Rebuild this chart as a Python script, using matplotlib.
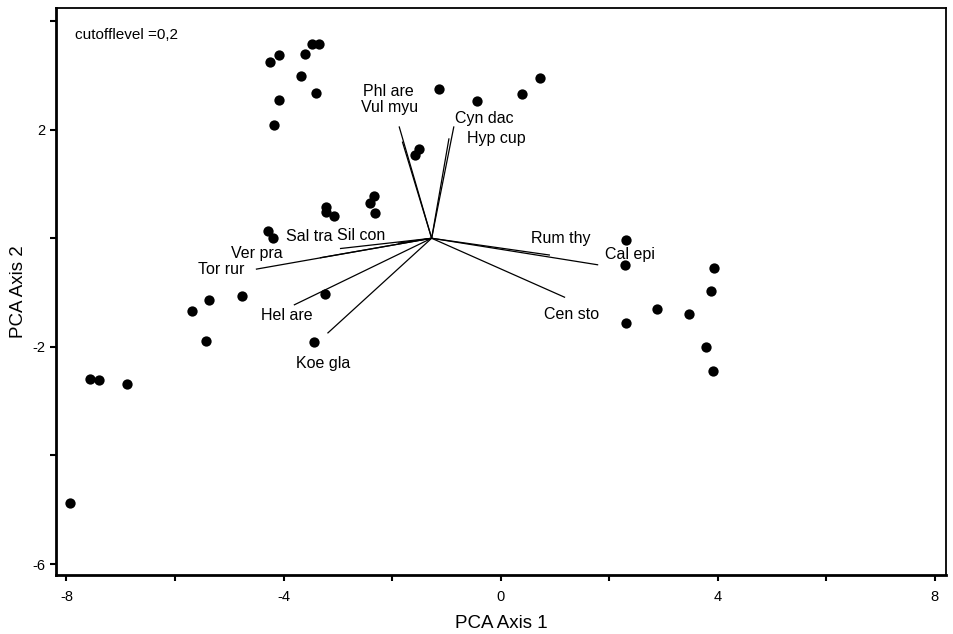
import matplotlib
matplotlib.use("Agg")
import matplotlib.pyplot as plt

plt.rcParams['font.family'] = ['Liberation Sans', 'DejaVu Sans']

# Site scores (PCA axis 1, axis 2)
site_x = [-4.25, -4.08, -3.61, -3.48, -3.34, -3.67, -3.41, -4.09, -4.18,
          -1.14, -0.44, 0.73, 0.39, -1.50, -1.57, -2.33, -2.41, -2.32,
          -3.22, -3.22, -3.07, -4.28, -4.20, -3.24, -4.76, -5.38, -5.68,
          -5.43, -3.44, -7.57, -7.40, -6.89, -7.93,
          2.32, 2.30, 3.93, 3.88, 2.89, 3.47, 2.31, 3.79, 3.91]
site_y = [3.24, 3.38, 3.40, 3.58, 3.57, 2.98, 2.68, 2.55, 2.09,
          2.74, 2.53, 2.96, 2.66, 1.65, 1.54, 0.77, 0.65, 0.47,
          0.57, 0.48, 0.41, 0.13, 0.00, -1.03, -1.06, -1.13, -1.34,
          -1.89, -1.91, -2.59, -2.61, -2.68, -4.87,
          -0.03, -0.49, -0.55, -0.97, -1.31, -1.40, -1.56, -2.00, -2.44]

# Species vectors: common origin and tips
vec_origin = (-1.27, 0.0)
species = ["Phl are", "Vul myu", "Cyn dac", "Hyp cup", "Sal tra", "Sil con",
           "Ver pra", "Tor rur", "Hel are", "Koe gla", "Rum thy", "Cal epi",
           "Cen sto"]
vec_x = [-1.87, -1.81, -0.86, -0.95, -2.96, -1.89, -3.33, -4.51, -3.81,
         -3.19, 0.91, 1.80, 1.19]
vec_y = [2.06, 1.78, 2.06, 1.84, -0.19, -0.09, -0.36, -0.57, -1.23,
         -1.75, -0.31, -0.49, -1.09]
# label anchor points (centre of text), data coordinates
label_x = [-2.07, -2.04, -0.30, -0.07, -3.53, -2.57, -4.49, -5.15, -3.94,
           -3.27, 1.11, 2.38, 1.31]
label_y = [2.70, 2.41, 2.21, 1.84, 0.03, 0.06, -0.28, -0.58, -1.43,
           -2.30, 0.00, -0.30, -1.41]

x_ticks = [-8, -6, -4, -2, 0, 2, 4, 6, 8]
x_ticklabels = ["-8", "", "-4", "", "0", "", "4", "", "8"]
y_ticks = [-6, -4, -2, 0, 2, 4]
y_ticklabels = ["-6", "", "-2", "", "2", ""]

fig = plt.figure(figsize=(9.54, 6.34), dpi=100)
ax = fig.add_axes([0.0589, 0.0931, 0.9327, 0.8943])

for vx, vy in zip(vec_x, vec_y):
    ax.plot([vec_origin[0], vx], [vec_origin[1], vy], color="black", lw=0.9,
            solid_capstyle="butt")

ax.scatter(site_x, site_y, s=55, color="black", zorder=3, linewidths=0)

for name, lx, ly in zip(species, label_x, label_y):
    ax.text(lx, ly, name, ha="center", va="center", fontsize=11.5)

ax.text(0.021, 0.952, "cutofflevel =0,2", transform=ax.transAxes,
        ha="left", va="center", fontsize=11)

ax.set_xlim(-8.19, 8.21)
ax.set_ylim(-6.20, 4.24)
ax.set_xticks(x_ticks)
ax.set_xticklabels(x_ticklabels)
ax.set_yticks(y_ticks)
ax.set_yticklabels(y_ticklabels)
ax.tick_params(axis="both", direction="out", length=4, width=1.5,
               labelsize=10.5, color="black")
ax.tick_params(axis="x", pad=7)
ax.tick_params(axis="y", pad=4)

for side in ["left", "bottom"]:
    ax.spines[side].set_linewidth(2.0)
for side in ["top", "right"]:
    ax.spines[side].set_linewidth(1.3)

ax.set_xlabel("PCA Axis 1", fontsize=13.5, labelpad=8)
ax.set_ylabel("PCA Axis 2", fontsize=13.5, labelpad=4)

fig.savefig("out.png", dpi=100)
